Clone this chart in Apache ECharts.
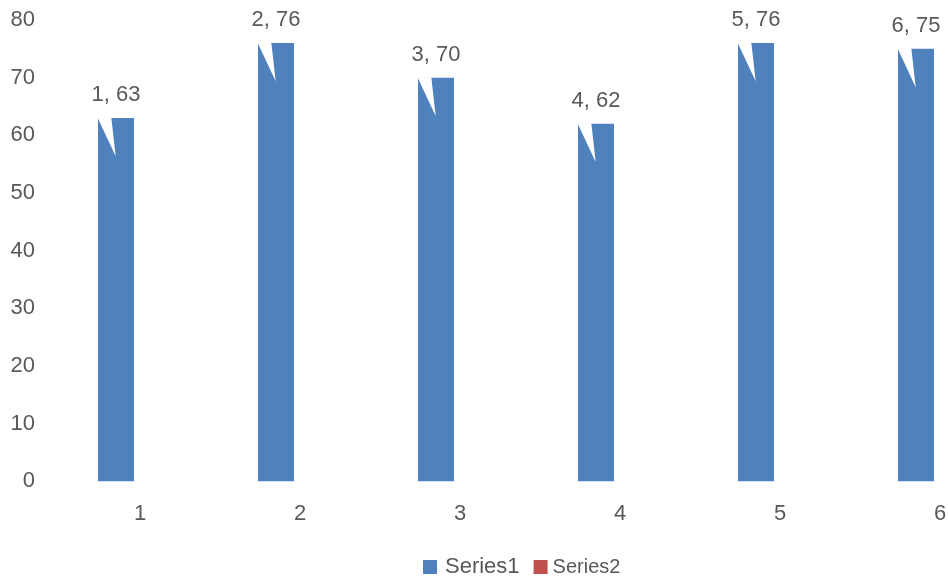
<!DOCTYPE html>
<html>
<head>
<meta charset="utf-8">
<script src="https://cdn.jsdelivr.net/npm/echarts@6/dist/echarts.min.js"></script>
<style>
html,body{margin:0;padding:0;background:#fff;}
#chart{width:948px;height:581px;}
</style>
</head>
<body>
<div id="chart"></div>
<script>
const categories = ['1', '2', '3', '4', '5', '6'];
const series1Values = [63, 76, 70, 62, 76, 75];
const series2Values = [null, null, null, null, null, null];
const yTicks = { min: 0, max: 80, interval: 10 };

const BAR_W = 36, BAR_GAP = 12;
const FONT = '"Liberation Sans", Arial, sans-serif';
const TEXT = '#595959';

const chart = echarts.init(document.getElementById('chart'), null, { renderer: 'canvas' });
chart.setOption({
  animation: false,
  backgroundColor: '#ffffff',
  grid: { left: 60, top: 20, width: 960, height: 461.3, outerBoundsMode: 'none', containLabel: false },
  legend: {
    data: [
      { name: 'Series1', textStyle: { fontSize: 22, padding: [0, 0, 0, 3] } },
      { name: 'Series2', textStyle: { fontSize: 20 } }
    ],
    left: 423, top: 556, padding: 0,
    itemWidth: 14, itemHeight: 14, itemGap: 14,
    icon: 'rect',
    textStyle: { color: TEXT, fontFamily: FONT, fontSize: 22 }
  },
  xAxis: {
    type: 'category',
    data: categories,
    axisLine: { show: false },
    axisTick: { show: false },
    axisLabel: { color: TEXT, fontFamily: FONT, fontSize: 22, margin: 22 },
    splitLine: { show: false }
  },
  yAxis: {
    type: 'value',
    min: yTicks.min, max: yTicks.max, interval: yTicks.interval,
    axisLine: { show: false },
    axisTick: { show: false },
    splitLine: { show: false },
    axisLabel: { color: TEXT, fontFamily: FONT, fontSize: 22, margin: 25 }
  },
  series: [
    {
      name: 'Series1', type: 'bar', data: series1Values,
      barWidth: BAR_W, barGap: '33.3%',
      itemStyle: { color: '#4F81BD' },
      label: {
        show: true, position: 'top', distance: 12,
        color: TEXT, fontFamily: FONT, fontSize: 22,
        formatter: p => categories[p.dataIndex] + ', ' + p.value
      },
      z: 2
    },
    {
      name: 'Series2', type: 'bar', data: series2Values,
      barWidth: BAR_W,
      itemStyle: { color: '#C0504D' },
      z: 2
    },
    {
      name: 'callout', type: 'custom',
      data: series1Values.map((v, i) => [i, v]),
      z: 5, silent: true,
      renderItem: function (params, api) {
        const pt = api.coord([api.value(0), api.value(1)]);
        const left = pt[0] - (2 * BAR_W + BAR_GAP) / 2;
        const top = pt[1];
        return {
          type: 'polygon',
          shape: { points: [[left - 0.5, top - 0.5], [left + 13.3, top - 0.5], [left + 17.7, top + 38.3]] },
          style: { fill: '#ffffff' }
        };
      }
    }
  ]
});
</script>
</body>
</html>
